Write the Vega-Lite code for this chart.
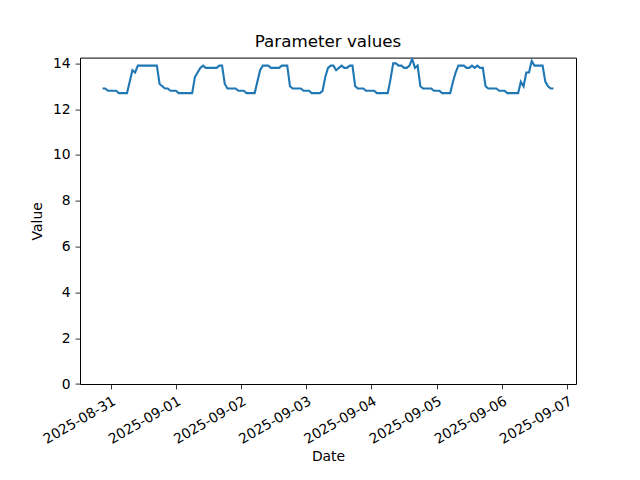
{
  "$schema": "https://vega.github.io/schema/vega-lite/v6.json",
  "description": "Parameter values over one week, hourly readings.",
  "autosize": {"type": "none"},
  "width": 496,
  "height": 326.4,
  "padding": {"left": 80, "top": 57.6, "right": 64, "bottom": 96},
  "background": "white",
  "title": {
    "text": "Parameter values",
    "fontSize": 16.7,
    "fontWeight": "normal",
    "font": "DejaVu Sans",
    "color": "black",
    "anchor": "middle",
    "offset": 6
  },
  "config": {
    "view": {"stroke": "black", "strokeWidth": 1},
    "axis": {
      "grid": false,
      "domain": false,
      "tickColor": "black",
      "tickWidth": 0.8,
      "tickSize": 4.9,
      "labelFont": "DejaVu Sans",
      "labelFontSize": 13.9,
      "labelColor": "black",
      "labelPadding": 4.9,
      "titleFont": "DejaVu Sans",
      "titleFontSize": 13.9,
      "titleFontWeight": "normal",
      "titleColor": "black"
    }
  },
  "data": {
    "values": [
      {"date": "2025-08-30T21:00:00", "value": 12.9},
      {"date": "2025-08-30T22:00:00", "value": 12.9},
      {"date": "2025-08-30T23:00:00", "value": 12.8},
      {"date": "2025-08-31T00:00:00", "value": 12.8},
      {"date": "2025-08-31T01:00:00", "value": 12.8},
      {"date": "2025-08-31T02:00:00", "value": 12.8},
      {"date": "2025-08-31T03:00:00", "value": 12.7},
      {"date": "2025-08-31T04:00:00", "value": 12.7},
      {"date": "2025-08-31T05:00:00", "value": 12.7},
      {"date": "2025-08-31T06:00:00", "value": 12.7},
      {"date": "2025-08-31T07:00:00", "value": 13.2},
      {"date": "2025-08-31T08:00:00", "value": 13.7},
      {"date": "2025-08-31T09:00:00", "value": 13.6},
      {"date": "2025-08-31T10:00:00", "value": 13.9},
      {"date": "2025-08-31T11:00:00", "value": 13.9},
      {"date": "2025-08-31T12:00:00", "value": 13.9},
      {"date": "2025-08-31T13:00:00", "value": 13.9},
      {"date": "2025-08-31T14:00:00", "value": 13.9},
      {"date": "2025-08-31T15:00:00", "value": 13.9},
      {"date": "2025-08-31T16:00:00", "value": 13.9},
      {"date": "2025-08-31T17:00:00", "value": 13.9},
      {"date": "2025-08-31T18:00:00", "value": 13.1},
      {"date": "2025-08-31T19:00:00", "value": 13.0},
      {"date": "2025-08-31T20:00:00", "value": 12.9},
      {"date": "2025-08-31T21:00:00", "value": 12.9},
      {"date": "2025-08-31T22:00:00", "value": 12.8},
      {"date": "2025-08-31T23:00:00", "value": 12.8},
      {"date": "2025-09-01T00:00:00", "value": 12.8},
      {"date": "2025-09-01T01:00:00", "value": 12.7},
      {"date": "2025-09-01T02:00:00", "value": 12.7},
      {"date": "2025-09-01T03:00:00", "value": 12.7},
      {"date": "2025-09-01T04:00:00", "value": 12.7},
      {"date": "2025-09-01T05:00:00", "value": 12.7},
      {"date": "2025-09-01T06:00:00", "value": 12.7},
      {"date": "2025-09-01T07:00:00", "value": 13.4},
      {"date": "2025-09-01T08:00:00", "value": 13.6},
      {"date": "2025-09-01T09:00:00", "value": 13.8},
      {"date": "2025-09-01T10:00:00", "value": 13.9},
      {"date": "2025-09-01T11:00:00", "value": 13.8},
      {"date": "2025-09-01T12:00:00", "value": 13.8},
      {"date": "2025-09-01T13:00:00", "value": 13.8},
      {"date": "2025-09-01T14:00:00", "value": 13.8},
      {"date": "2025-09-01T15:00:00", "value": 13.8},
      {"date": "2025-09-01T16:00:00", "value": 13.9},
      {"date": "2025-09-01T17:00:00", "value": 13.9},
      {"date": "2025-09-01T18:00:00", "value": 13.1},
      {"date": "2025-09-01T19:00:00", "value": 12.9},
      {"date": "2025-09-01T20:00:00", "value": 12.9},
      {"date": "2025-09-01T21:00:00", "value": 12.9},
      {"date": "2025-09-01T22:00:00", "value": 12.9},
      {"date": "2025-09-01T23:00:00", "value": 12.8},
      {"date": "2025-09-02T00:00:00", "value": 12.8},
      {"date": "2025-09-02T01:00:00", "value": 12.8},
      {"date": "2025-09-02T02:00:00", "value": 12.7},
      {"date": "2025-09-02T03:00:00", "value": 12.7},
      {"date": "2025-09-02T04:00:00", "value": 12.7},
      {"date": "2025-09-02T05:00:00", "value": 12.7},
      {"date": "2025-09-02T06:00:00", "value": 13.2},
      {"date": "2025-09-02T07:00:00", "value": 13.7},
      {"date": "2025-09-02T08:00:00", "value": 13.9},
      {"date": "2025-09-02T09:00:00", "value": 13.9},
      {"date": "2025-09-02T10:00:00", "value": 13.9},
      {"date": "2025-09-02T11:00:00", "value": 13.8},
      {"date": "2025-09-02T12:00:00", "value": 13.8},
      {"date": "2025-09-02T13:00:00", "value": 13.8},
      {"date": "2025-09-02T14:00:00", "value": 13.8},
      {"date": "2025-09-02T15:00:00", "value": 13.9},
      {"date": "2025-09-02T16:00:00", "value": 13.9},
      {"date": "2025-09-02T17:00:00", "value": 13.9},
      {"date": "2025-09-02T18:00:00", "value": 13.0},
      {"date": "2025-09-02T19:00:00", "value": 12.9},
      {"date": "2025-09-02T20:00:00", "value": 12.9},
      {"date": "2025-09-02T21:00:00", "value": 12.9},
      {"date": "2025-09-02T22:00:00", "value": 12.9},
      {"date": "2025-09-02T23:00:00", "value": 12.8},
      {"date": "2025-09-03T00:00:00", "value": 12.8},
      {"date": "2025-09-03T01:00:00", "value": 12.8},
      {"date": "2025-09-03T02:00:00", "value": 12.7},
      {"date": "2025-09-03T03:00:00", "value": 12.7},
      {"date": "2025-09-03T04:00:00", "value": 12.7},
      {"date": "2025-09-03T05:00:00", "value": 12.7},
      {"date": "2025-09-03T06:00:00", "value": 12.8},
      {"date": "2025-09-03T07:00:00", "value": 13.4},
      {"date": "2025-09-03T08:00:00", "value": 13.8},
      {"date": "2025-09-03T09:00:00", "value": 13.9},
      {"date": "2025-09-03T10:00:00", "value": 13.9},
      {"date": "2025-09-03T11:00:00", "value": 13.7},
      {"date": "2025-09-03T12:00:00", "value": 13.8},
      {"date": "2025-09-03T13:00:00", "value": 13.9},
      {"date": "2025-09-03T14:00:00", "value": 13.8},
      {"date": "2025-09-03T15:00:00", "value": 13.8},
      {"date": "2025-09-03T16:00:00", "value": 13.9},
      {"date": "2025-09-03T17:00:00", "value": 13.9},
      {"date": "2025-09-03T18:00:00", "value": 13.0},
      {"date": "2025-09-03T19:00:00", "value": 12.9},
      {"date": "2025-09-03T20:00:00", "value": 12.9},
      {"date": "2025-09-03T21:00:00", "value": 12.9},
      {"date": "2025-09-03T22:00:00", "value": 12.8},
      {"date": "2025-09-03T23:00:00", "value": 12.8},
      {"date": "2025-09-04T00:00:00", "value": 12.8},
      {"date": "2025-09-04T01:00:00", "value": 12.8},
      {"date": "2025-09-04T02:00:00", "value": 12.7},
      {"date": "2025-09-04T03:00:00", "value": 12.7},
      {"date": "2025-09-04T04:00:00", "value": 12.7},
      {"date": "2025-09-04T05:00:00", "value": 12.7},
      {"date": "2025-09-04T06:00:00", "value": 12.7},
      {"date": "2025-09-04T07:00:00", "value": 13.3},
      {"date": "2025-09-04T08:00:00", "value": 14.0},
      {"date": "2025-09-04T09:00:00", "value": 14.0},
      {"date": "2025-09-04T10:00:00", "value": 13.9},
      {"date": "2025-09-04T11:00:00", "value": 13.9},
      {"date": "2025-09-04T12:00:00", "value": 13.8},
      {"date": "2025-09-04T13:00:00", "value": 13.8},
      {"date": "2025-09-04T14:00:00", "value": 13.9},
      {"date": "2025-09-04T15:00:00", "value": 14.2},
      {"date": "2025-09-04T16:00:00", "value": 13.8},
      {"date": "2025-09-04T17:00:00", "value": 13.9},
      {"date": "2025-09-04T18:00:00", "value": 13.0},
      {"date": "2025-09-04T19:00:00", "value": 12.9},
      {"date": "2025-09-04T20:00:00", "value": 12.9},
      {"date": "2025-09-04T21:00:00", "value": 12.9},
      {"date": "2025-09-04T22:00:00", "value": 12.9},
      {"date": "2025-09-04T23:00:00", "value": 12.8},
      {"date": "2025-09-05T00:00:00", "value": 12.8},
      {"date": "2025-09-05T01:00:00", "value": 12.8},
      {"date": "2025-09-05T02:00:00", "value": 12.7},
      {"date": "2025-09-05T03:00:00", "value": 12.7},
      {"date": "2025-09-05T04:00:00", "value": 12.7},
      {"date": "2025-09-05T05:00:00", "value": 12.7},
      {"date": "2025-09-05T06:00:00", "value": 13.2},
      {"date": "2025-09-05T07:00:00", "value": 13.6},
      {"date": "2025-09-05T08:00:00", "value": 13.9},
      {"date": "2025-09-05T09:00:00", "value": 13.9},
      {"date": "2025-09-05T10:00:00", "value": 13.9},
      {"date": "2025-09-05T11:00:00", "value": 13.8},
      {"date": "2025-09-05T12:00:00", "value": 13.8},
      {"date": "2025-09-05T13:00:00", "value": 13.9},
      {"date": "2025-09-05T14:00:00", "value": 13.8},
      {"date": "2025-09-05T15:00:00", "value": 13.9},
      {"date": "2025-09-05T16:00:00", "value": 13.8},
      {"date": "2025-09-05T17:00:00", "value": 13.8},
      {"date": "2025-09-05T18:00:00", "value": 13.0},
      {"date": "2025-09-05T19:00:00", "value": 12.9},
      {"date": "2025-09-05T20:00:00", "value": 12.9},
      {"date": "2025-09-05T21:00:00", "value": 12.9},
      {"date": "2025-09-05T22:00:00", "value": 12.9},
      {"date": "2025-09-05T23:00:00", "value": 12.8},
      {"date": "2025-09-06T00:00:00", "value": 12.8},
      {"date": "2025-09-06T01:00:00", "value": 12.8},
      {"date": "2025-09-06T02:00:00", "value": 12.7},
      {"date": "2025-09-06T03:00:00", "value": 12.7},
      {"date": "2025-09-06T04:00:00", "value": 12.7},
      {"date": "2025-09-06T05:00:00", "value": 12.7},
      {"date": "2025-09-06T06:00:00", "value": 12.7},
      {"date": "2025-09-06T07:00:00", "value": 13.2},
      {"date": "2025-09-06T08:00:00", "value": 13.0},
      {"date": "2025-09-06T09:00:00", "value": 13.6},
      {"date": "2025-09-06T10:00:00", "value": 13.6},
      {"date": "2025-09-06T11:00:00", "value": 14.1},
      {"date": "2025-09-06T12:00:00", "value": 13.9},
      {"date": "2025-09-06T13:00:00", "value": 13.9},
      {"date": "2025-09-06T14:00:00", "value": 13.9},
      {"date": "2025-09-06T15:00:00", "value": 13.9},
      {"date": "2025-09-06T16:00:00", "value": 13.2},
      {"date": "2025-09-06T17:00:00", "value": 13.0},
      {"date": "2025-09-06T18:00:00", "value": 12.9},
      {"date": "2025-09-06T19:00:00", "value": 12.9}
    ]
  },
  "mark": {"type": "line", "color": "#1f77b4", "strokeWidth": 2.1, "clip": true},
  "encoding": {
    "x": {
      "field": "date",
      "type": "temporal",
      "scale": {"domain": ["2025-08-30T12:42:00", "2025-09-07T03:18:00"]},
      "axis": {
        "title": "Date",
        "format": "%Y-%m-%d",
        "tickCount": {"interval": "day", "step": 1},
        "labelAngle": -30,
        "labelAlign": "right",
        "labelBaseline": "top",
        "labelDx": -5,
        "labelOverlap": false,
        "titlePadding": 3
      }
    },
    "y": {
      "field": "value",
      "type": "quantitative",
      "scale": {"domain": [0, 14.25], "nice": false, "zero": true},
      "axis": {
        "title": "Value",
        "values": [0, 2, 4, 6, 8, 10, 12, 14],
        "titlePadding": 8
      }
    }
  }
}
